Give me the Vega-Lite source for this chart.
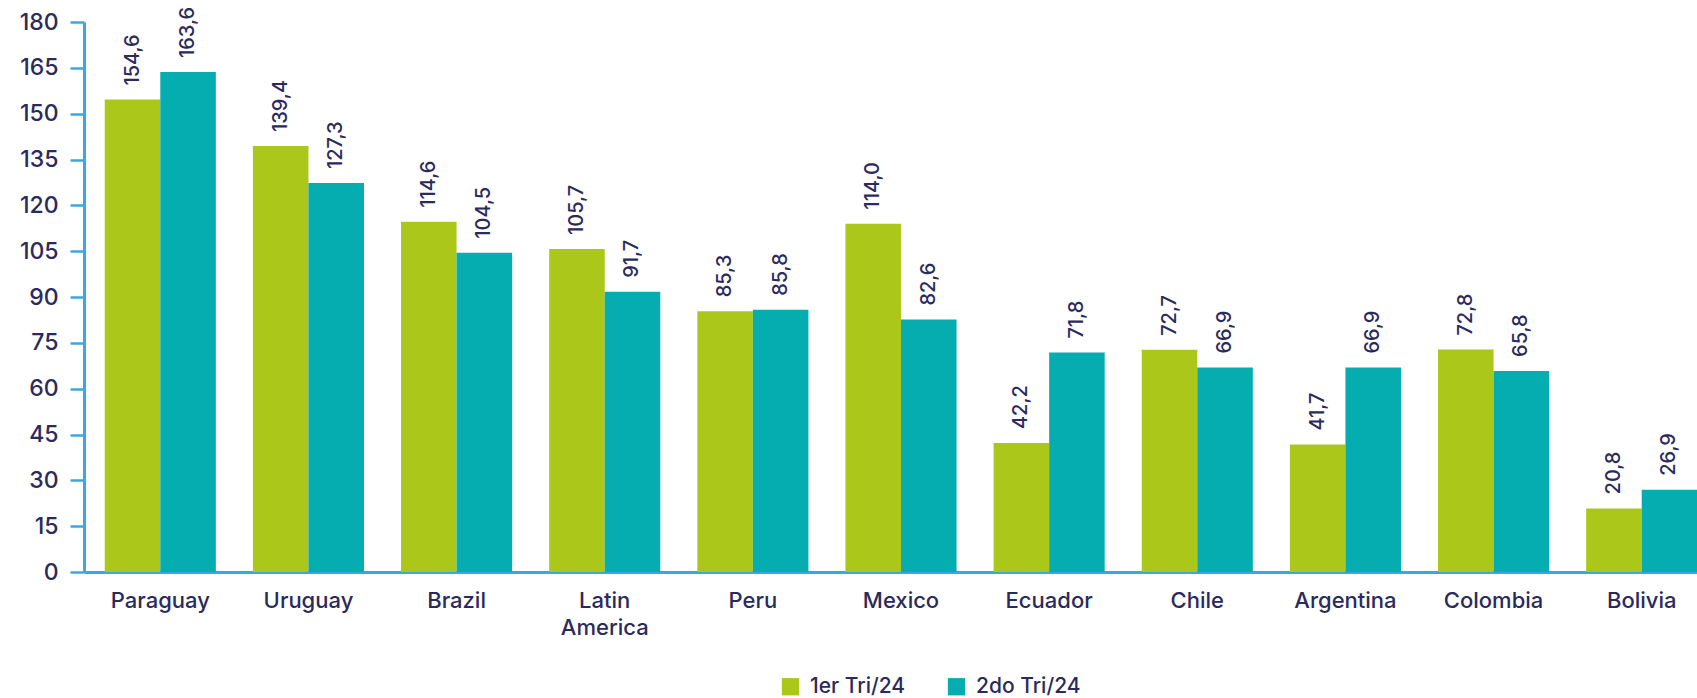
{
  "$schema": "https://vega.github.io/schema/vega-lite/v6.json",
  "autosize": {"type": "none"},
  "padding": {"left": 84, "top": 22, "right": 0, "bottom": 127},
  "width": 1634,
  "height": 550,
  "background": "white",
  "config": {
    "locale": {"number": {"decimal": ",", "thousands": ".", "grouping": [3], "currency": ["", ""]}},
    "font": "Inter",
    "view": {"stroke": null}
  },
  "data": {"values": [
    {"country": "Paraguay", "period": "1er Tri/24", "value": 154.6},
    {"country": "Paraguay", "period": "2do Tri/24", "value": 163.6},
    {"country": "Uruguay", "period": "1er Tri/24", "value": 139.4},
    {"country": "Uruguay", "period": "2do Tri/24", "value": 127.3},
    {"country": "Brazil", "period": "1er Tri/24", "value": 114.6},
    {"country": "Brazil", "period": "2do Tri/24", "value": 104.5},
    {"country": "Latin America", "period": "1er Tri/24", "value": 105.7},
    {"country": "Latin America", "period": "2do Tri/24", "value": 91.7},
    {"country": "Peru", "period": "1er Tri/24", "value": 85.3},
    {"country": "Peru", "period": "2do Tri/24", "value": 85.8},
    {"country": "Mexico", "period": "1er Tri/24", "value": 114.0},
    {"country": "Mexico", "period": "2do Tri/24", "value": 82.6},
    {"country": "Ecuador", "period": "1er Tri/24", "value": 42.2},
    {"country": "Ecuador", "period": "2do Tri/24", "value": 71.8},
    {"country": "Chile", "period": "1er Tri/24", "value": 72.7},
    {"country": "Chile", "period": "2do Tri/24", "value": 66.9},
    {"country": "Argentina", "period": "1er Tri/24", "value": 41.7},
    {"country": "Argentina", "period": "2do Tri/24", "value": 66.9},
    {"country": "Colombia", "period": "1er Tri/24", "value": 72.8},
    {"country": "Colombia", "period": "2do Tri/24", "value": 65.8},
    {"country": "Bolivia", "period": "1er Tri/24", "value": 20.8},
    {"country": "Bolivia", "period": "2do Tri/24", "value": 26.9}
  ]},
  "encoding": {
    "x": {
      "field": "country", "type": "nominal", "sort": null,
      "scale": {"paddingInner": 0.25, "paddingOuter": 0.14},
      "axis": {
        "title": null, "labelAngle": 0, "ticks": false,
        "domainColor": "#3aa8e0", "domainWidth": 3,
        "labelFontSize": 22, "labelColor": "#2b2a5c", "labelFontWeight": 500,
        "labelPadding": 18, "labelLineHeight": 27, "labelBaseline": "top",
        "labelExpr": "datum.label == 'Latin America' ? ['Latin', 'America'] : datum.label"
      }
    },
    "xOffset": {"field": "period", "type": "nominal", "scale": {"paddingInner": 0, "paddingOuter": 0}},
    "y": {
      "field": "value", "type": "quantitative",
      "scale": {"domain": [0, 180], "nice": false},
      "axis": {
        "title": null, "grid": false,
        "values": [0, 15, 30, 45, 60, 75, 90, 105, 120, 135, 150, 165, 180],
        "domainColor": "#3aa8e0", "domainWidth": 3,
        "tickColor": "#3aa8e0", "tickWidth": 2.5, "tickSize": 14,
        "labelFontSize": 23, "labelColor": "#2b2a5c", "labelFontWeight": 500,
        "labelPadding": 12
      }
    }
  },
  "layer": [
    {
      "mark": {"type": "bar"},
      "encoding": {
        "color": {
          "field": "period", "type": "nominal",
          "scale": {"domain": ["1er Tri/24", "2do Tri/24"], "range": ["#abc81a", "#05adb0"]},
          "legend": {
            "title": null, "orient": "none", "direction": "horizontal",
            "legendX": 696, "legendY": 654,
            "symbolType": "square", "symbolSize": 300, "symbolStrokeWidth": 0,
            "labelFontSize": 21, "labelColor": "#2b2a5c", "labelFontWeight": 500,
            "columnPadding": 40, "labelOffset": 9
          }
        }
      }
    },
    {
      "mark": {"type": "text", "angle": -90, "align": "left", "baseline": "middle", "dx": 14, "fontSize": 20, "color": "#2b2a5c", "fontWeight": 500},
      "encoding": {
        "text": {"field": "value", "type": "quantitative", "format": ".1f"}
      }
    }
  ]
}
